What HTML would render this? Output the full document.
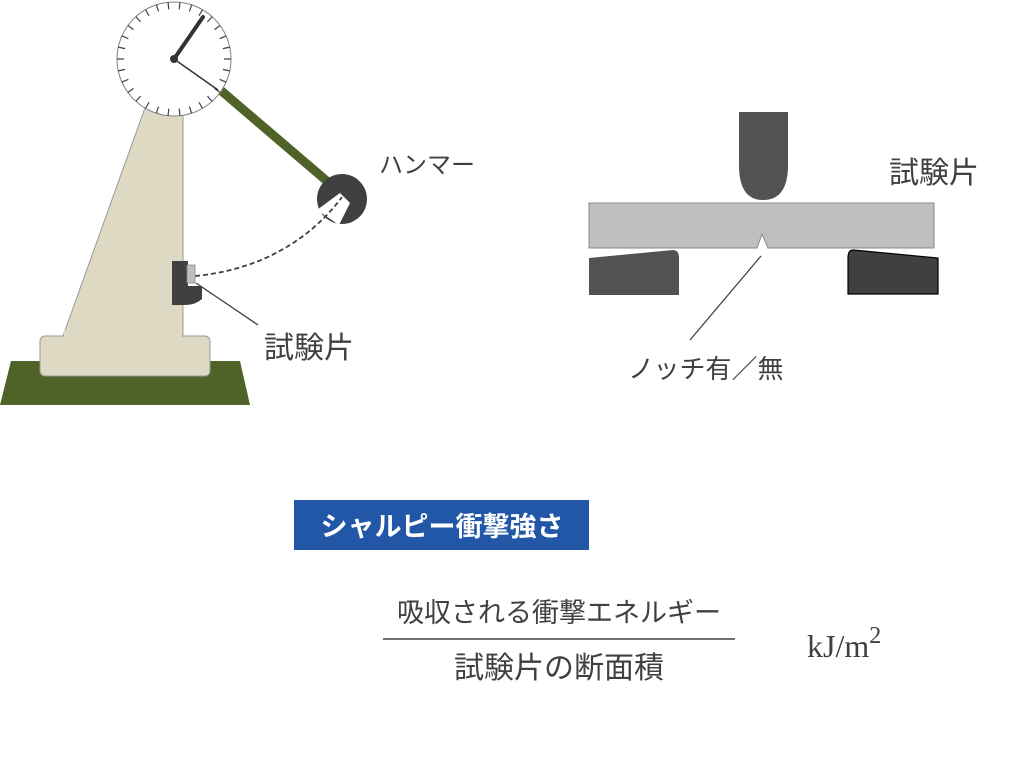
<!DOCTYPE html>
<html><head><meta charset="utf-8"><style>
html,body{margin:0;padding:0;background:#fff;}
svg{display:block;}
text{font-family:"Liberation Sans","Noto Sans CJK JP",sans-serif;fill:#404040;}
</style></head><body>
<svg width="1024" height="769" viewBox="0 0 1024 769" xmlns="http://www.w3.org/2000/svg">
<polygon points="11,361 240,361 250,405 0,405" fill="#4f6228"/>
<polygon points="146,105 183,105 183,336 63,336" fill="#ddd9c3" stroke="#999" stroke-width="1"/>
<rect x="40" y="336" width="170" height="40" rx="5" fill="#ddd9c3" stroke="#999" stroke-width="1"/>
<rect x="64" y="330" width="118" height="10" fill="#ddd9c3"/>
<line x1="218" y1="88" x2="335" y2="188" stroke="#4f6228" stroke-width="9"/>
<circle cx="174" cy="59" r="57" fill="#fff" stroke="#808080" stroke-width="1"/>
<g stroke="#404040" stroke-width="1.2" id="ticks"></g>
<line x1="174" y1="59" x2="203" y2="17" stroke="#333" stroke-width="4" stroke-linecap="round"/>
<line x1="174" y1="59" x2="218" y2="90" stroke="#333" stroke-width="1.5"/>
<circle cx="174" cy="59" r="4" fill="#333"/>
<circle cx="342" cy="199" r="25" fill="#404040"/>
<polygon points="317,210 340,193 350,203 339,225" fill="#fff"/>
<path d="M195,276 C260,270 310,240 342,197" fill="none" stroke="#404040" stroke-width="1.8" stroke-dasharray="5,3"/>
<path d="M172,261 H188 V286 H202 V299 Q195,305 186,305 H172 Z" fill="#404040"/>
<rect x="187" y="265" width="8" height="18" fill="#bfbfbf" stroke="#888" stroke-width="0.8"/>
<line x1="196" y1="283" x2="258" y2="325" stroke="#404040" stroke-width="1.3"/>
<text x="264" y="358" font-size="30">試験片</text>
<text x="379" y="173" font-size="24">ハンマー</text>

<path d="M739,112 H788 V165 Q788,200 763,200 Q739,200 739,165 Z" fill="#525252"/>
<path d="M589,203 H934 V248 H768 L762,234 L757,248 H589 Z" fill="#bfbfbf" stroke="#888" stroke-width="1"/>
<path d="M589,258 L673,250 Q679,250 679,258 V295 H589 Z" fill="#525252"/>
<path d="M853,250 L938,258 V294 H848 V258 Q848,250 853,250 Z" fill="#404040" stroke="#000" stroke-width="1.2"/>
<line x1="761" y1="256" x2="690" y2="340" stroke="#404040" stroke-width="1.3"/>
<text x="889" y="183" font-size="30">試験片</text>
<text x="628" y="378" font-size="26">ノッチ有／無</text>

<rect x="294" y="500" width="295" height="50" fill="#2157a6"/>
<text x="442" y="536" font-size="27" font-weight="bold" text-anchor="middle" style="fill:#fff">シャルピー衝撃強さ</text>
<text x="559" y="622" font-size="27" text-anchor="middle">吸収される衝撃エネルギー</text>
<line x1="383" y1="639" x2="735" y2="639" stroke="#404040" stroke-width="1.5"/>
<text x="559" y="678" font-size="30" text-anchor="middle">試験片の断面積</text>
<text x="807" y="657" font-size="32" style="font-family:'Liberation Serif',serif">kJ/m<tspan font-size="24" dy="-14">2</tspan></text>
</svg>
<script>
var g=document.getElementById('ticks'),s='';
for(var i=0;i<30;i++){var a=i*12*Math.PI/180,c=Math.cos(a),n=Math.sin(a);
s+='<line x1="'+(174+57*c)+'" y1="'+(59+57*n)+'" x2="'+(174+50*c)+'" y2="'+(59+50*n)+'"/>';}
g.innerHTML=s;
</script>
</body></html>
